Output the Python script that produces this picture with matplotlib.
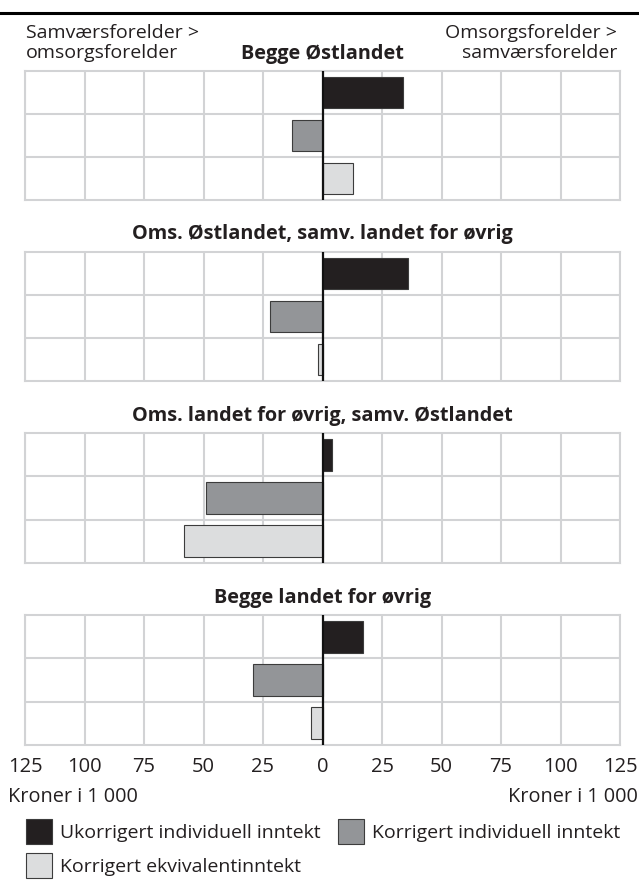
import matplotlib
matplotlib.use("Agg")
import matplotlib.pyplot as plt
from matplotlib.lines import Line2D
from matplotlib.patches import Patch

plt.rcParams["font.family"] = ["Open Sans", "DejaVu Sans"]

# data (kroner i 1 000), positive = omsorgsforelder > samværsforelder
panels = [
    "Begge Østlandet",
    "Oms. Østlandet, samv. landet for øvrig",
    "Oms. landet for øvrig, samv. Østlandet",
    "Begge landet for øvrig",
]
series = [
    "Ukorrigert individuell inntekt",
    "Korrigert individuell inntekt",
    "Korrigert ekvivalentinntekt",
]
ukorrigert = [34.0, 36.1, 4.2, 16.9]
korrigert_ind = [-12.9, -22.0, -49.0, -29.0]
korrigert_ekv = [13.0, -2.0, -58.0, -4.9]
ticks = [-125, -100, -75, -50, -25, 0, 25, 50, 75, 100, 125]

colors = ["#231f20", "#939598", "#dcddde"]
edge = "#3c3c3c"
grid_c = "#d2d3d5"
txt = "#231f20"

W, H = 639, 883
fig = plt.figure(figsize=(W / 100, H / 100), dpi=100)

# panel tops/bottoms in pixels
tops = [71, 252, 433, 615]
bots = [200, 381, 563, 745]
left, width = 25 / W, 595 / W

for i, title in enumerate(panels):
    ax = fig.add_axes([left, 1 - bots[i] / H, width, (bots[i] - tops[i]) / H])
    vals = [ukorrigert[i], korrigert_ind[i], korrigert_ekv[i]]
    ax.barh([0, 1, 2], vals, height=0.74, color=colors, edgecolor=edge,
            linewidth=0.8, zorder=3)
    ax.set_xlim(-125, 125)
    ax.set_ylim(2.5, -0.5)
    ax.set_xticks(ticks)
    ax.set_yticks([0.5, 1.5])
    ax.set_yticklabels([])
    ax.grid(True, color=grid_c, linewidth=1.5, zorder=0)
    ax.tick_params(length=0, labelsize=14.5, colors=txt, pad=9)
    for s in ax.spines.values():
        s.set_color(grid_c)
        s.set_linewidth(1.5)
    ax.axvline(0, color="#111111", linewidth=1.6, zorder=4)
    if i < 3:
        ax.set_xticklabels([])
    else:
        ax.set_xticklabels([str(abs(t)) for t in ticks])
    ax.set_title(title, fontsize=14.3, fontweight="bold", color=txt, pad=9)

# top rule
fig.add_artist(Line2D([0, 1], [1 - 13 / H, 1 - 13 / H], color="black",
                      linewidth=2.2, transform=fig.transFigure))

hdr = dict(fontsize=14, color=txt, va="baseline")
fig.text(26 / W, 1 - 37.5 / H, "Samværsforelder >", ha="left", **hdr)
fig.text(26 / W, 1 - 57.5 / H, "omsorgsforelder", ha="left", **hdr)
fig.text(617 / W, 1 - 37.5 / H, "Omsorgsforelder >", ha="right", **hdr)
fig.text(617 / W, 1 - 57.5 / H, "samværsforelder", ha="right", **hdr)

fig.text(8 / W, 1 - 797 / H, "Kroner i 1 000", ha="left", va="center",
         fontsize=14.3, color=txt)
fig.text(638 / W, 1 - 797 / H, "Kroner i 1 000", ha="right", va="center",
         fontsize=14.3, color=txt)

handles = [Patch(facecolor=c, edgecolor=edge, linewidth=0.8) for c in colors]
order = [0, 2, 1]
fig.legend([handles[k] for k in order], [series[k] for k in order],
           loc="upper left", bbox_to_anchor=(26 / W, 1 - 819 / H),
           ncol=2, frameon=False, fontsize=14, handlelength=1.35,
           handleheight=1.6, handletextpad=0.4, columnspacing=0.9,
           labelspacing=0.45, borderpad=0, borderaxespad=0, labelcolor=txt)

fig.savefig("out.png", dpi=100)
